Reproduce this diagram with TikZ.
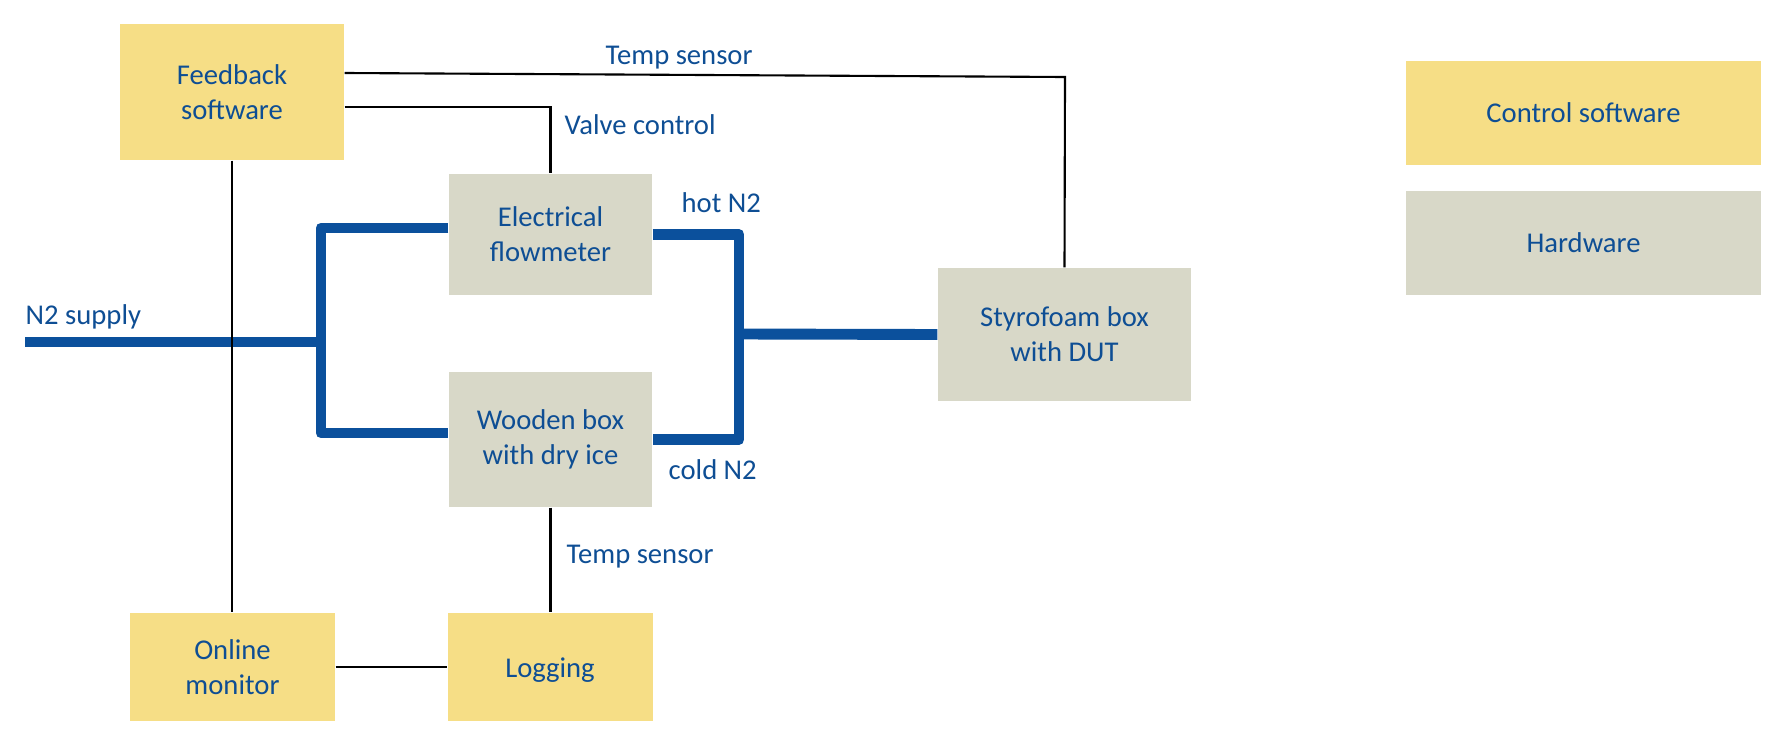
\documentclass[tikz,border=0pt]{standalone}
\usepackage{fontspec}
\setmainfont{Carlito}

\definecolor{txtblue}{RGB}{14,78,148}
\definecolor{pipeblue}{RGB}{11,80,156}
\definecolor{swyellow}{RGB}{246,222,134}
\definecolor{hwgrey}{RGB}{216,216,200}

\begin{document}
\begin{tikzpicture}[x=0.1mm,y=-0.1mm,
    every node/.style={font=\fontsize{8.15}{9.95}\selectfont, text=txtblue},
    sw/.style={fill=swyellow, align=center, inner sep=0pt},
    hw/.style={fill=hwgrey, align=center, inner sep=0pt},
    lbl/.style={anchor=base west, inner sep=0pt},
    pipe/.style={draw=pipeblue, line width=3.1pt, line join=round},
    wire/.style={draw=black, line width=0.6pt}]
        \useasboundingbox (0,0) rectangle (1785,744);

        % boxes
        \node[sw, minimum width=22.4mm, minimum height=13.6mm] (fb) at (232,92) {Feedback\\software};
        \node[hw, minimum width=20.3mm, minimum height=12.1mm] (elec) at (550.5,234.5) {Electrical\\flowmeter};
        \node[hw, minimum width=20.3mm, minimum height=13.5mm] (wood) at (550.5,439.5) {Wooden box\\with dry ice};
        \node[sw, minimum width=20.5mm, minimum height=10.8mm] (online) at (232.5,667) {Online\\monitor};
        \node[sw, minimum width=20.5mm, minimum height=10.8mm] (log) at (550,667) {\raisebox{-0.3mm}[\height][\depth]{Logging}};
        \node[hw, minimum width=25.3mm, minimum height=13.3mm] (styro) at (1064.5,334.5) {Styrofoam box\\with DUT};

        % legend
        \node[sw, minimum width=35.5mm, minimum height=10.4mm] (legsw) at (1583.5,113) {Control software};
        \node[hw, minimum width=35.5mm, minimum height=10.4mm] (leghw) at (1583.5,243) {Hardware};

        % N2 lines
        \coordinate (supply) at (25,342);
        \coordinate (split) at (321,342);
        \coordinate (merge) at (739,334);
        \draw[pipe] (supply) -- (split);
        \draw[pipe] ([yshift=0.65mm]elec.west) -| (split) |- ([yshift=0.65mm]wood.west);
        \draw[pipe] (elec.east) -| (merge) |- (wood.east);
        \draw[pipe] (merge) -- (styro.west);

        % signals
        \coordinate (tcorner) at (1065,77);
        \draw[wire] ([yshift=1.9mm]fb.east) -- (tcorner) -- (styro.north);
        \draw[wire] ([yshift=-1.5mm]fb.east) -| (elec.north);
        \draw[wire] (fb.south) -- (fb.south |- online.north);
        \draw[wire] (wood.south) -- (wood.south |- log.north);
        \draw[wire] (online.east) -- (log.west);

        % labels
        \node[lbl] (supplylbl) at (25,324) {N2 supply};
        \node[lbl] (tstop) at (605,64) {Temp sensor};
        \node[lbl] (valve) at (564,134) {Valve control};
        \node[lbl] (hot) at (681,212) {hot N2};
        \node[lbl] (cold) at (668,479) {cold N2};
        \node[lbl] (tsbot) at (566,563) {Temp sensor};
\end{tikzpicture}
\end{document}
